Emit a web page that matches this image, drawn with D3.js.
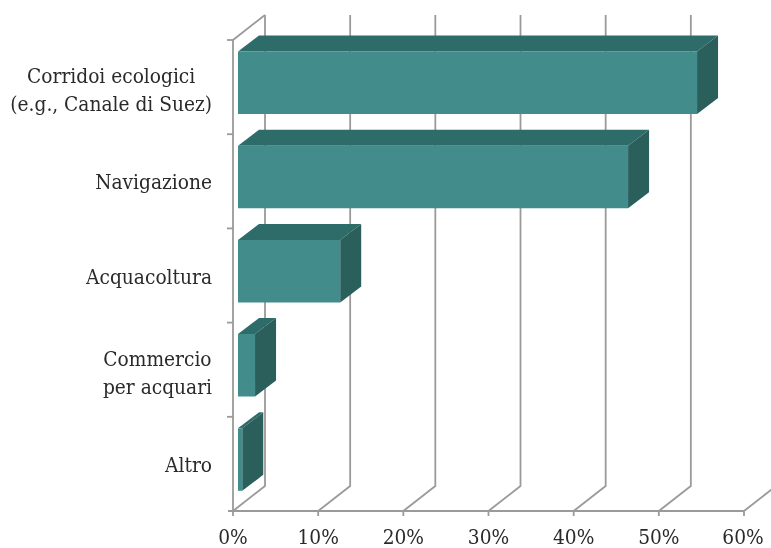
<!DOCTYPE html>
<html><head><meta charset="utf-8">
<script src="https://cdn.jsdelivr.net/npm/d3@7"></script>
<style>html,body{margin:0;padding:0;background:#fff}svg{display:block}</style></head>
<body><svg id="c" width="771" height="548"></svg>
<script>
const categories = ["Corridoi ecologici|(e.g., Canale di Suez)","Navigazione","Acquacoltura","Commercio|per acquari","Altro"];
const values = [53.9,45.8,12,2,0.5];
const xTicks = [0,10,20,30,40,50,60];

const svg = d3.select("#c");
const x = d3.scaleLinear().domain([0,60]).range([233,744]);
const y = d3.scaleBand().domain(categories).range([40,511]);
const wall = {dx:32, dy:-25}, depth = {dx:21, dy:-16};
const barLeft = 5, barTop = 11.5, barH = 62.5;
const cGrid = "#9c9a98", cText = "#2a2a2a";
const font = "'DejaVu Serif Condensed', 'DejaVu Serif', serif";

const defs = svg.append("defs");
const f = defs.append("filter").attr("id","soft").attr("x","-5%").attr("y","-5%").attr("width","110%").attr("height","110%");
f.append("feGaussianBlur").attr("stdDeviation",0.5);
const root = svg.append("g").attr("filter","url(#soft)");
root.append("rect").attr("width",771).attr("height",548).attr("fill","#fff");

const grid = root.append("g").attr("stroke",cGrid).attr("stroke-width",1.8).attr("fill","none");
xTicks.forEach(t=>{
  const x0 = x(t), yb = y.range()[1], yt = y.range()[0];
  grid.append("path").attr("d",d3.line()([[x0,yb],[x0+wall.dx,yb+wall.dy],[x0+wall.dx,yt+wall.dy]]));
  grid.append("line").attr("x1",x0).attr("x2",x0).attr("y1",yb).attr("y2",yb+5);
});
grid.append("path").attr("d",d3.line()([[x(0),y.range()[1]],[x(0),y.range()[0]],[x(0)+wall.dx,y.range()[0]+wall.dy]]));
grid.append("line").attr("x1",x(0)-5).attr("x2",x(60)).attr("y1",y.range()[1]).attr("y2",y.range()[1]);
y.domain().forEach(c=>{
  grid.append("line").attr("x1",x(0)-6).attr("x2",x(0)).attr("y1",y(c)).attr("y2",y(c));
});

const bars = root.append("g").selectAll("g").data(categories.map((c,i)=>({c,v:values[i]}))).join("g");
bars.each(function(d){
  const g = d3.select(this);
  const l = x(0)+barLeft, r = l + (x(d.v)-x(0)), t = y(d.c)+barTop, b = t+barH;
  const poly = (pts,fill)=>g.append("polygon").attr("points",pts.map(p=>p.join(",")).join(" ")).attr("fill",fill);
  poly([[l,t],[l+depth.dx,t+depth.dy],[r+depth.dx,t+depth.dy],[r,t]],"#2f6c69");
  poly([[r,t],[r+depth.dx,t+depth.dy],[r+depth.dx,b+depth.dy],[r,b]],"#2a5e5c");
  poly([[l,t],[r,t],[r,b],[l,b]],"#428c8c");
});

const labels = root.append("g").attr("font-family",font).attr("font-size",20.7).attr("fill",cText);
categories.forEach(c=>{
  const lines = c.split("|"), cy = y(c)+y.bandwidth()/2;
  const texts = lines.map((s,i)=>labels.append("text").text(s).attr("y",cy+8-(lines.length-1)*14+i*28+(lines.length-1)*2));
  const w = d3.max(texts,t=>t.node().getComputedTextLength());
  texts.forEach(t=>t.attr("text-anchor","middle").attr("x",212-w/2));
});
xTicks.forEach(t=>{
  labels.append("text").text(t+"%").attr("x",x(t)+(t===60?-1:0)).attr("y",543.5).attr("text-anchor","middle");
});
</script></body></html>
